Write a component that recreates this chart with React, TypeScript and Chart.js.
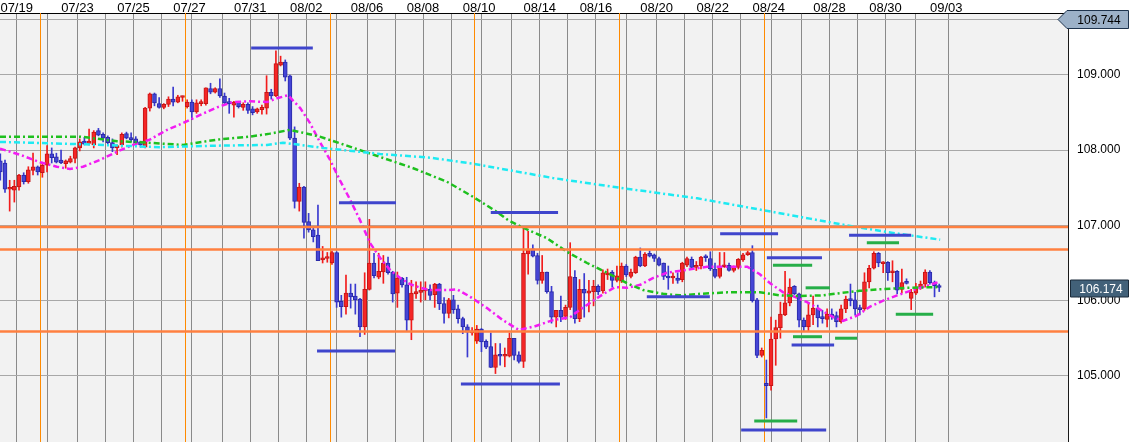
import React, { useEffect, useRef } from 'react';
import { Chart, registerables } from 'chart.js';
Chart.register(...registerables);

// ---- data (4-hour candles, index -1 = last candle of 07/18) ----
const FIRST_INDEX = -1;
const opens = [
  107.86, 107.83, 107.48, 107.47, 107.51, 107.67, 107.58, 107.73, 107.78, 107.70,
  107.80, 107.95, 107.91, 107.87, 107.82, 107.84, 107.89, 108.03, 108.12, 108.09,
  108.07, 108.26, 108.21, 108.17, 108.10, 108.03, 108.07, 108.22, 108.16, 108.15,
  108.11, 108.04, 108.56, 108.75, 108.62, 108.57, 108.61, 108.68, 108.64, 108.70,
  108.58, 108.64, 108.51, 108.62, 108.62, 108.82, 108.77, 108.82, 108.72, 108.64,
  108.60, 108.64, 108.57, 108.61, 108.55, 108.51, 108.54, 108.56, 108.77, 108.72,
  109.13, 109.17, 108.99, 108.16, 107.32, 107.51, 107.05, 106.94, 106.87, 106.54,
  106.56, 106.50, 106.64, 105.99, 105.92, 106.10, 106.06, 106.02, 105.65, 106.15,
  106.50, 106.31, 106.38, 106.50, 106.38, 106.10, 106.30, 106.21, 105.74, 106.09,
  106.11, 106.13, 106.15, 106.08, 106.22, 105.96, 105.83, 106.01, 105.89, 105.76,
  105.65, 105.57, 105.46, 105.62, 105.46, 105.39, 105.11, 105.28, 105.26, 105.26,
  105.50, 105.28, 105.19, 106.62, 106.69, 106.60, 106.27, 106.38, 106.12, 105.78,
  105.87, 105.79, 105.91, 106.31, 105.76, 106.15, 106.10, 106.12, 106.19, 106.13,
  106.34, 106.38, 106.27, 106.26, 106.46, 106.32, 106.37, 106.58, 106.46, 106.63,
  106.61, 106.56, 106.50, 106.32, 106.30, 106.30, 106.28, 106.47, 106.55, 106.44,
  106.46, 106.58, 106.56, 106.42, 106.32, 106.45, 106.47, 106.40, 106.44, 106.54,
  106.61, 106.64, 106.01, 105.27, 104.90, 104.87, 105.49, 105.64, 105.81, 105.97,
  106.19, 106.09, 105.74, 105.65, 105.81, 105.90, 105.78, 105.75, 105.82, 105.80,
  105.72, 105.89, 106.02, 106.01, 105.89, 105.89, 106.25, 106.43, 106.63, 106.49,
  106.51, 106.37, 106.39, 106.15, 106.25, 106.03, 106.10, 106.18, 106.22, 106.38,
  106.24, 106.19,
];
const highs = [
  107.95, 107.87, 107.60, 107.60, 107.68, 107.70, 107.78, 107.96, 107.79, 107.84,
  108.06, 108.03, 107.96, 108.00, 107.87, 107.92, 108.04, 108.15, 108.17, 108.28,
  108.26, 108.29, 108.23, 108.19, 108.15, 108.07, 108.23, 108.24, 108.23, 108.18,
  108.12, 108.57, 108.76, 108.76, 108.70, 108.62, 108.71, 108.84, 108.73, 108.72,
  108.67, 108.67, 108.67, 108.67, 108.83, 108.89, 108.83, 108.95, 108.76, 108.69,
  108.65, 108.65, 108.63, 108.63, 108.58, 108.56, 108.60, 108.99, 108.81, 109.32,
  109.25, 109.20, 109.00, 108.31, 107.56, 107.52, 107.16, 106.98, 107.27, 106.72,
  106.64, 106.66, 106.65, 106.07, 106.34, 106.22, 106.22, 106.03, 106.37, 107.08,
  106.63, 106.63, 106.60, 106.58, 106.39, 106.38, 106.31, 106.31, 106.27, 106.25,
  106.25, 106.25, 106.21, 106.23, 106.23, 106.04, 106.03, 106.07, 105.94, 105.78,
  105.68, 105.64, 105.67, 105.63, 105.48, 105.57, 105.43, 105.43, 105.37, 105.57,
  105.50, 105.32, 106.97, 106.92, 106.74, 106.63, 106.60, 106.38, 106.19, 105.87,
  106.06, 105.94, 106.77, 106.40, 106.28, 106.36, 106.27, 106.27, 106.21, 106.41,
  106.42, 106.40, 106.46, 106.50, 106.48, 106.42, 106.59, 106.70, 106.64, 106.66,
  106.62, 106.58, 106.50, 106.46, 106.37, 106.37, 106.51, 106.58, 106.58, 106.52,
  106.59, 106.61, 106.65, 106.50, 106.64, 106.64, 106.50, 106.46, 106.56, 106.63,
  106.66, 106.73, 106.03, 105.37, 105.21, 105.78, 105.74, 105.98, 106.39, 106.29,
  106.20, 106.10, 105.77, 105.97, 106.06, 105.94, 105.87, 105.89, 105.89, 105.85,
  105.94, 106.06, 106.22, 106.11, 105.94, 106.37, 106.47, 106.65, 106.64, 106.52,
  106.52, 106.53, 106.40, 106.42, 106.29, 106.15, 106.23, 106.26, 106.41, 106.40,
  106.26, 106.22,
];
const lows = [
  107.60, 107.44, 107.19, 107.31, 107.47, 107.55, 107.56, 107.67, 107.67, 107.64,
  107.71, 107.83, 107.83, 107.82, 107.76, 107.83, 107.83, 107.99, 108.07, 108.07,
  108.03, 108.19, 108.11, 108.08, 107.98, 107.94, 108.04, 108.15, 108.11, 108.08,
  108.04, 108.03, 108.52, 108.59, 108.56, 108.55, 108.58, 108.59, 108.63, 108.65,
  108.56, 108.41, 108.49, 108.59, 108.60, 108.75, 108.76, 108.70, 108.62, 108.49,
  108.44, 108.56, 108.53, 108.49, 108.47, 108.49, 108.48, 108.48, 108.68, 108.71,
  109.12, 108.92, 108.14, 107.23, 107.19, 106.83, 106.91, 106.78, 106.53, 106.50,
  106.51, 106.48, 105.91, 105.78, 105.82, 105.90, 105.82, 105.52, 105.55, 106.14,
  106.30, 106.29, 106.23, 106.35, 105.98, 105.91, 106.18, 105.60, 105.48, 106.03,
  105.98, 106.01, 106.01, 105.91, 105.88, 105.70, 105.77, 105.83, 105.70, 105.56,
  105.25, 105.54, 105.43, 105.32, 105.36, 105.11, 105.03, 105.14, 105.12, 105.25,
  105.21, 105.17, 105.11, 106.35, 106.58, 106.22, 106.23, 106.10, 105.70, 105.65,
  105.72, 105.75, 105.88, 105.70, 105.72, 105.78, 105.85, 105.93, 106.08, 106.10,
  106.28, 106.18, 106.25, 106.24, 106.32, 106.30, 106.36, 106.45, 106.45, 106.58,
  106.52, 106.46, 106.28, 106.15, 106.23, 106.23, 106.25, 106.45, 106.42, 106.40,
  106.42, 106.52, 106.40, 106.30, 106.30, 106.44, 106.39, 106.38, 106.42, 106.52,
  106.60, 105.98, 105.24, 105.25, 104.44, 104.81, 105.14, 105.50, 105.80, 105.93,
  106.08, 105.65, 105.60, 105.60, 105.68, 105.65, 105.70, 105.65, 105.75, 105.65,
  105.70, 105.84, 105.93, 105.81, 105.81, 105.87, 106.17, 106.42, 106.45, 106.37,
  106.27, 106.25, 106.09, 106.10, 106.22, 105.88, 106.08, 106.15, 106.18, 106.22,
  106.05, 106.12,
];
const closes = [
  107.71, 107.48, 107.49, 107.52, 107.67, 107.58, 107.74, 107.78, 107.71, 107.80,
  107.95, 107.90, 107.84, 107.83, 107.86, 107.89, 108.03, 108.11, 108.08, 108.12,
  108.24, 108.20, 108.16, 108.10, 108.03, 108.06, 108.21, 108.16, 108.14, 108.10,
  108.07, 108.56, 108.75, 108.63, 108.57, 108.61, 108.68, 108.64, 108.71, 108.71,
  108.64, 108.51, 108.63, 108.63, 108.83, 108.77, 108.82, 108.72, 108.63, 108.62,
  108.64, 108.58, 108.61, 108.53, 108.50, 108.55, 108.57, 108.77, 108.72, 109.15,
  109.17, 108.97, 108.16, 107.32, 107.51, 107.04, 106.94, 106.85, 106.53, 106.57,
  106.58, 106.64, 105.98, 105.92, 106.10, 106.05, 106.01, 105.65, 106.15, 106.50,
  106.33, 106.39, 106.50, 106.37, 106.09, 106.30, 106.21, 105.74, 106.10, 106.12,
  106.14, 106.15, 106.07, 106.22, 105.96, 105.83, 106.01, 105.88, 105.76, 105.65,
  105.58, 105.58, 105.62, 105.45, 105.38, 105.11, 105.28, 105.26, 105.27, 105.50,
  105.27, 105.19, 106.63, 106.68, 106.59, 106.27, 106.38, 106.12, 105.78, 105.87,
  105.78, 105.91, 106.32, 105.76, 106.15, 106.10, 106.13, 106.19, 106.12, 106.37,
  106.37, 106.27, 106.33, 106.46, 106.34, 106.38, 106.58, 106.46, 106.62, 106.59,
  106.56, 106.47, 106.32, 106.30, 106.31, 106.27, 106.50, 106.56, 106.44, 106.47,
  106.58, 106.57, 106.42, 106.32, 106.46, 106.47, 106.40, 106.44, 106.55, 106.61,
  106.64, 106.00, 105.27, 105.34, 104.87, 105.49, 105.64, 105.82, 105.97, 106.18,
  106.09, 105.74, 105.65, 105.81, 105.90, 105.77, 105.76, 105.82, 105.79, 105.72,
  105.89, 106.02, 106.00, 105.89, 105.88, 106.25, 106.43, 106.63, 106.50, 106.51,
  106.37, 106.38, 106.14, 106.24, 106.23, 106.11, 106.18, 106.22, 106.38, 106.24,
  106.20, 106.174,
];

// moving averages (candle index, price)
const maFastX = [-1.07, 3.2, 7.5, 11.1, 13.9, 16.7, 20.3, 24.0, 27.4, 31.0, 34.7, 38.1, 41.8, 45.4, 48.8, 52.5, 56.1, 58.2, 60.6, 63.2, 65.3, 67.4, 69.6, 71.7, 73.9, 76.0, 78.1, 80.3, 82.4, 84.6, 86.7, 88.9, 91.0, 94.6, 96.8, 99.6, 103.2, 106.6, 110.0, 113.5, 117.3, 121.0, 123.1, 127.4, 130.6, 133.2, 136.0, 138.7, 141.7, 146.0, 150.3, 154.6, 158.9, 161.6, 163.8, 166.6, 168.7, 171.7, 174.5, 177.3, 179.4, 182.4, 185.2, 188.0, 191.0, 193.8, 196.5, 200];
const maFastY = [108.02, 107.94, 107.84, 107.78, 107.75, 107.78, 107.87, 107.98, 108.07, 108.14, 108.27, 108.36, 108.47, 108.57, 108.64, 108.65, 108.64, 108.69, 108.73, 108.56, 108.36, 108.11, 107.87, 107.60, 107.34, 107.07, 106.77, 106.57, 106.41, 106.30, 106.22, 106.17, 106.14, 106.14, 106.15, 106.05, 105.90, 105.74, 105.61, 105.66, 105.74, 105.78, 105.88, 106.06, 106.18, 106.17, 106.21, 106.30, 106.37, 106.41, 106.45, 106.45, 106.45, 106.35, 106.23, 106.11, 106.06, 105.98, 105.88, 105.78, 105.73, 105.80, 105.92, 106.00, 106.07, 106.13, 106.18, 106.25];
const maMidX = [-1.07, 16.1, 24.0, 30.4, 38.1, 45.4, 52.5, 56.7, 61.0, 63.2, 67.4, 73.2, 80.3, 87.4, 94.6, 100.2, 105.3, 107.7, 110.9, 116.0, 120.3, 124.6, 128.9, 133.2, 136.6, 140.9, 144.5, 148.8, 154.6, 161.6, 165.9, 170.2, 175.1, 178.8, 183.0, 187.3, 193.1, 200];
const maMidY = [108.18, 108.18, 108.12, 108.10, 108.07, 108.14, 108.18, 108.22, 108.27, 108.24, 108.18, 108.06, 107.91, 107.76, 107.58, 107.38, 107.18, 107.07, 106.97, 106.83, 106.65, 106.50, 106.37, 106.23, 106.14, 106.09, 106.07, 106.09, 106.11, 106.11, 106.07, 106.06, 106.07, 106.10, 106.13, 106.15, 106.17, 106.18];
const maSlowX = [-1.07, 16.1, 33.2, 45.4, 56.1, 59.5, 63.2, 68.1, 80.3, 91.0, 100.2, 117.3, 131.7, 148.2, 161.6, 172.3, 183.0, 190.1, 200.2];
const maSlowY = [108.11, 108.08, 108.04, 108.06, 108.07, 108.10, 108.07, 108.03, 107.95, 107.90, 107.82, 107.63, 107.50, 107.36, 107.21, 107.09, 106.97, 106.90, 106.81];

// level segments: [from index, to index, price]
const blueLevels = [
  [52.7, 65.9, 109.36], [71.5, 83.7, 107.30], [66.8, 83.5, 105.33], [104.0, 118.4, 107.17],
  [97.6, 118.8, 104.89], [137.4, 150.9, 106.05], [153.1, 165.5, 106.89], [157.6, 175.8, 104.28],
  [163.1, 174.9, 106.57], [168.4, 177.5, 105.41], [180.7, 194.0, 106.87],
];
const greenLevels = [
  [164.4, 172.8, 106.47], [171.4, 176.6, 106.17], [184.5, 191.4, 106.77], [190.7, 198.7, 105.82],
  [168.7, 174.9, 105.52], [177.7, 182.4, 105.50], [160.4, 169.6, 104.40],
];
const orangeLevels = [106.98, 106.68, 105.59];
const weekMarks = [7.5, 38.5, 69.5, 100.5, 131.5, 162.5];
const dayBoundaries = [-0.5, 5.5, 12.5, 18.5, 24.5, 30.5, 36.5, 43.5, 49.5, 55.5, 61.5, 67.5, 74.5, 80.5, 86.5, 92.5, 98.5, 105.5, 111.5, 117.5, 123.5, 129.5, 136.5, 142.5, 148.5, 154.5, 160.5, 167.5, 173.5, 179.5, 185.5, 191.5, 198.5];
const dateLabels = ['07/19', '07/23', '07/25', '07/27', '07/31', '08/02', '08/06', '08/08', '08/10', '08/14', '08/16', '08/20', '08/22', '08/24', '08/28', '08/30', '09/03'];
const dateLabelIdx = [2.5, 15.5, 27.5, 39.5, 52.5, 64.5, 77.5, 89.5, 101.5, 114.5, 126.5, 139.5, 151.5, 163.5, 176.5, 188.5, 201.5];
const yTicks = [105, 106, 107, 108, 109, 109.744];
const PERIOD_HIGH = 109.744;
const LAST_PRICE = 106.174;
const X_MIN = -1.07, X_MAX = 227.57;
const Y_MIN = 104.12, Y_MAX = 109.824;

const FONT = '"Liberation Sans", Arial, sans-serif';

export default function App() {
  const ref = useRef<HTMLCanvasElement>(null);
  useEffect(() => {
    const canvas = ref.current!;
    const up = opens.map((o, k) => closes[k] >= o);
    const xs = opens.map((_, k) => FIRST_INDEX + k);

    const datasets: any[] = [];
    datasets.push({
      type: 'bar', label: 'wick', order: 10, grouped: false, barThickness: 1,
      data: xs.map((x, k) => ({ x, y: [lows[k], highs[k]] })),
      backgroundColor: up.map(u => (u ? '#F21C1C' : '#3A3ACF')),
      borderWidth: 0,
    });
    datasets.push({
      type: 'bar', label: 'body', order: 9, grouped: false, barThickness: 4, minBarLength: 2,
      data: xs.map((x, k) => ({ x, y: [opens[k], closes[k]] })),
      backgroundColor: up.map(u => (u ? '#F52626' : '#4545D6')),
      borderColor: up.map(u => (u ? '#C41616' : '#2A2AA8')),
      borderWidth: 1, borderSkipped: false,
    });
    const maLine = (X: number[], Y: number[], color: string) => ({
      type: 'line', order: 3, data: X.map((x, k) => ({ x, y: Y[k] })),
      borderColor: color, borderWidth: 2.5, borderDash: [6, 3, 2, 3], pointRadius: 0, tension: 0, fill: false,
    });
    datasets.push(maLine(maSlowX, maSlowY, '#1EEAF2'));
    datasets.push(maLine(maMidX, maMidY, '#1EC01E'));
    datasets.push(maLine(maFastX, maFastY, '#F21CF2'));
    orangeLevels.forEach(v => datasets.push({
      type: 'line', order: 2, data: [{ x: X_MIN, y: v }, { x: X_MAX, y: v }],
      borderColor: '#FF8040', borderWidth: 2.5, pointRadius: 0,
    }));
    blueLevels.forEach(([a, b, v]) => datasets.push({
      type: 'line', order: 1, data: [{ x: a, y: v }, { x: b, y: v }],
      borderColor: '#3F45CC', borderWidth: 3, pointRadius: 0, borderCapStyle: 'butt',
    }));
    greenLevels.forEach(([a, b, v]) => datasets.push({
      type: 'line', order: 1, data: [{ x: a, y: v }, { x: b, y: v }],
      borderColor: '#26AE48', borderWidth: 3, pointRadius: 0, borderCapStyle: 'butt',
    }));

    const deco = {
      id: 'deco',
      beforeDraw(chart: any) {
        const { ctx, chartArea: a } = chart;
        ctx.save();
        ctx.fillStyle = '#ffffff';
        ctx.fillRect(0, 0, chart.width, chart.height);
        ctx.fillStyle = '#F2F2F2';
        ctx.fillRect(a.left, a.top, a.right - a.left, a.bottom - a.top);
        ctx.restore();
      },
      beforeDatasetsDraw(chart: any) {
        const { ctx, chartArea: a, scales } = chart;
        ctx.save();
        ctx.strokeStyle = '#FF8A00';
        ctx.lineWidth = 1;
        weekMarks.forEach(v => {
          const px = Math.round(scales.x.getPixelForValue(v)) + 0.5;
          ctx.beginPath(); ctx.moveTo(px, a.top); ctx.lineTo(px, a.bottom); ctx.stroke();
        });
        ctx.restore();
      },
      afterDraw(chart: any) {
        const { ctx, chartArea: a, scales } = chart;
        const W = chart.width;
        ctx.save();
        ctx.font = '12px ' + FONT;
        ctx.textAlign = 'center';
        ctx.textBaseline = 'middle';
        // period high marker
        const yh = Math.round(scales.y.getPixelForValue(PERIOD_HIGH)) + 0.5;
        ctx.beginPath();
        ctx.moveTo(a.right - 10, yh);
        ctx.lineTo(a.right - 1, yh - 9);
        ctx.lineTo(W - 0.5, yh - 9);
        ctx.lineTo(W - 0.5, yh + 9);
        ctx.lineTo(a.right - 1, yh + 9);
        ctx.closePath();
        ctx.fillStyle = '#9CB1C8';
        ctx.fill();
        ctx.strokeStyle = '#1E344E';
        ctx.lineWidth = 1;
        ctx.stroke();
        ctx.fillStyle = '#000';
        ctx.fillText(PERIOD_HIGH.toFixed(3), a.right + 31, yh + 1);
        // last price box
        const yl = Math.round(scales.y.getPixelForValue(LAST_PRICE)) + 0.5;
        ctx.beginPath();
        ctx.rect(a.right + 2.5, yl - 8.5, W - a.right - 3, 17);
        ctx.fillStyle = '#426179';
        ctx.fill();
        ctx.strokeStyle = '#1B2B3A';
        ctx.stroke();
        ctx.fillStyle = '#ffffff';
        ctx.fillText(LAST_PRICE.toFixed(3), a.right + 33, yl + 1);
        ctx.restore();
      },
    };

    const noPad = (s: any) => { s.paddingTop = 0; s.paddingBottom = 0; s.paddingLeft = 0; s.paddingRight = 0; };

    const chart = new Chart(canvas, {
      type: 'bar',
      data: { datasets },
      options: {
        responsive: false,
        animation: false,
        events: [],
        layout: { padding: 0 },
        plugins: { legend: { display: false }, tooltip: { enabled: false } },
        scales: {
          x: {
            type: 'linear', position: 'top', min: X_MIN, max: X_MAX, offset: false,
            afterBuildTicks: (s: any) => { s.ticks = dayBoundaries.map(v => ({ value: v })); },
            ticks: { display: false },
            grid: { color: '#8A8A8A', lineWidth: 1, drawTicks: false },
            border: { display: false },
            afterFit: (s: any) => { s.height = 0; noPad(s); },
          },
          xDates: {
            type: 'linear', position: 'top', min: X_MIN, max: X_MAX, offset: false,
            afterBuildTicks: (s: any) => { s.ticks = dateLabelIdx.map(v => ({ value: v })); },
            ticks: {
              autoSkip: false, maxRotation: 0, minRotation: 0, padding: -3, color: '#000',
              font: { family: FONT, size: 13 },
              callback: (v: any) => { const i = dateLabelIdx.indexOf(Number(v)); return i >= 0 ? dateLabels[i] : ''; },
            },
            grid: { display: false, drawTicks: false },
            border: { display: true, color: '#000', width: 1 },
            afterFit: (s: any) => { s.height = 13; noPad(s); },
          },
          y: {
            type: 'linear', position: 'right', min: Y_MIN, max: Y_MAX,
            afterBuildTicks: (s: any) => { s.ticks = yTicks.map(v => ({ value: v })); },
            ticks: {
              padding: 9, color: '#000', font: { family: FONT, size: 12 },
              callback: (v: any) => (Math.abs(Number(v) - PERIOD_HIGH) < 1e-6 ? '' : Number(v).toFixed(3)),
            },
            grid: { color: '#A8A8A8', lineWidth: 1, drawTicks: false },
            border: { display: true, color: '#1A1A1A', width: 1 },
            afterFit: (s: any) => { s.width = 61; noPad(s); },
          },
        },
      } as any,
      plugins: [deco],
    } as any);
    return () => chart.destroy();
  }, []);

  return (
    <div style={{ position: 'absolute', left: 0, top: 0, width: 1129, height: 442 }}>
      <canvas ref={ref} width={1129} height={442} style={{ display: 'block', width: 1129, height: 442 }} />
    </div>
  );
}
